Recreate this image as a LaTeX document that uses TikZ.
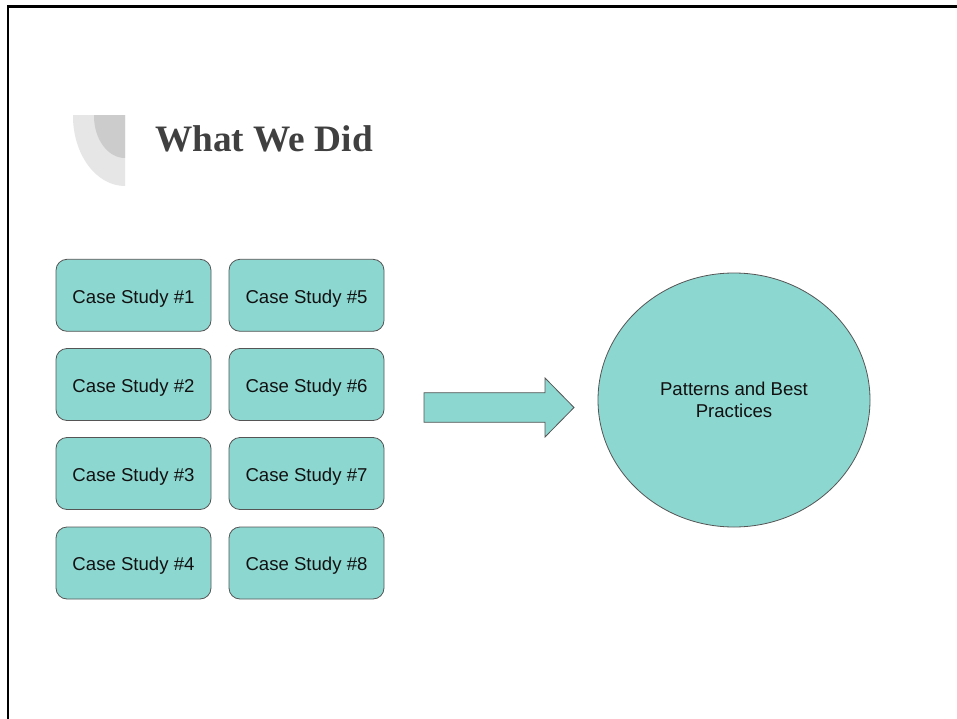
\documentclass[tikz,border=0pt]{standalone}
\usepackage{fontspec}
\setmainfont{Liberation Serif}
\newfontfamily\arialf{Liberation Sans}
\usetikzlibrary{shapes.geometric}
\definecolor{boxfill}{HTML}{8DD7D1}
\definecolor{boxline}{HTML}{555555}
\definecolor{txtc}{HTML}{111111}
\definecolor{titlegray}{HTML}{404040}
\definecolor{decoA}{HTML}{E6E6E6}
\definecolor{decoB}{HTML}{CCCCCC}
\tikzset{
  casebox/.style={draw=boxline, line width=0.8pt, fill=boxfill, rounded corners=11pt,
    minimum width=155pt, minimum height=72pt, inner sep=0pt, text=txtc,
    text height=15.6pt, text depth=0pt,
    font=\arialf\fontsize{18.6}{22}\selectfont},
  resultell/.style={ellipse, draw=boxline, line width=0.8pt, fill=boxfill,
    minimum width=272pt, minimum height=254pt, inner sep=0pt, text=txtc, align=center,
    font=\arialf\fontsize{18.6}{22}\selectfont},
  blockarrow/.style={draw=boxline, line width=0.8pt, fill=boxfill},
  frameline/.style={line width=2.5pt, black}
}
\begin{document}
\begin{tikzpicture}[x=1pt,y=-1pt]
\useasboundingbox (0,0) rectangle (957,719);
\fill[white] (0,0) rectangle (957,719);
% frame
\draw[frameline] (8,719) -- (8,6.3) -- (957,6.3);
% decoration
\begin{scope}
\clip (70,116) rectangle (125,190);
\fill[decoA] (125,116) ellipse [x radius=52, y radius=70];
\fill[decoB] (125,116) ellipse [x radius=31, y radius=42];
\end{scope}
% title
\node[anchor=base west, inner sep=0pt, text=titlegray, font=\bfseries\fontsize{37.3}{44}\selectfont] (title) at (155,152) {What We Did};
% case studies
\node[casebox] (c1) at (133.5,295.3) {Case Study \#1};
\node[casebox] (c2) at (133.5,384.5) {Case Study \#2};
\node[casebox] (c3) at (133.5,473.5) {Case Study \#3};
\node[casebox] (c4) at (133.5,563) {Case Study \#4};
\node[casebox] (c5) at (306.5,295.3) {Case Study \#5};
\node[casebox] (c6) at (306.5,384.5) {Case Study \#6};
\node[casebox] (c7) at (306.5,473.5) {Case Study \#7};
\node[casebox] (c8) at (306.5,563) {Case Study \#8};
% block arrow
\draw[blockarrow] (424,392.7) -- (545,392.7) -- (545,378) -- (574,407.5) -- (545,437) -- (545,422.3) -- (424,422.3) -- cycle;
% result
\node[resultell] (pbp) at (734,400) {Patterns and Best\\Practices};
\end{tikzpicture}
\end{document}
